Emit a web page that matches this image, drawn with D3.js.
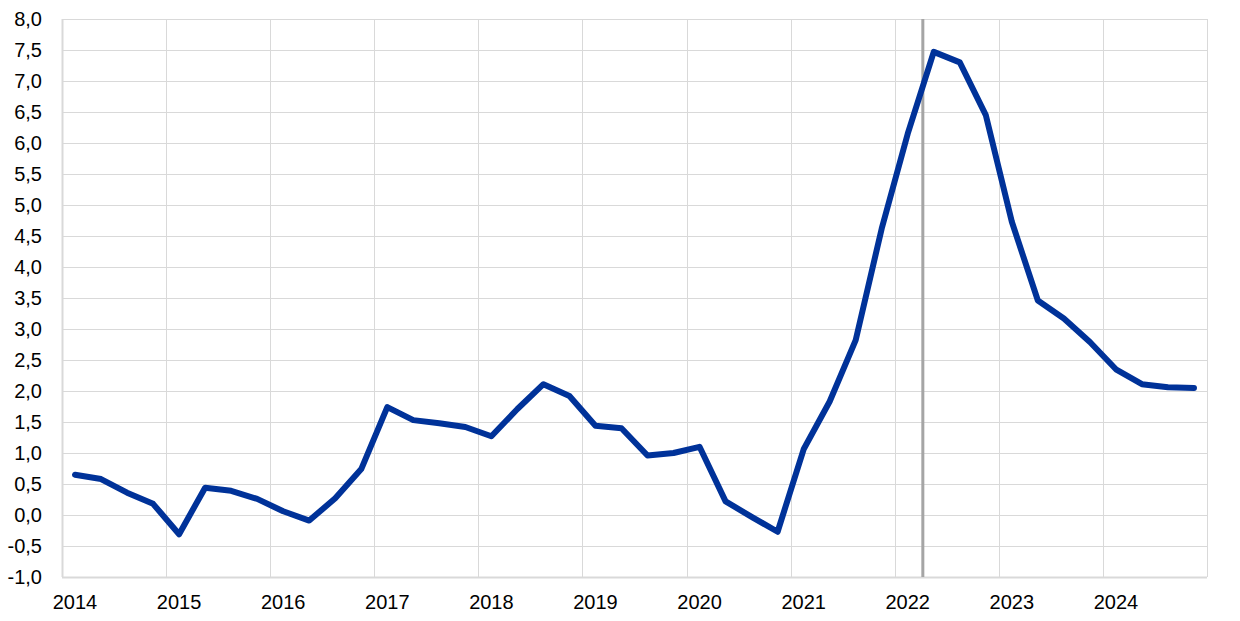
<!DOCTYPE html>
<html>
<head>
<meta charset="utf-8">
<script src="https://cdn.jsdelivr.net/npm/d3@7/dist/d3.min.js"></script>
<style>
  html, body { margin: 0; padding: 0; background: #fff; }
  svg { display: block; font-family: "Liberation Sans", Arial, sans-serif; }
</style>
</head>
<body>
<svg id="chart" width="1240" height="621"></svg>
<script>
// Year labels (one per four quarterly categories)
const years = ["2014","2015","2016","2017","2018","2019","2020","2021","2022","2023","2024"];
// Quarterly categories 2014Q1 .. 2024Q4
const quarters = years.flatMap(y => ["Q1","Q2","Q3","Q4"].map(q => y + q));
// Series values (%)
const values = [
  0.65, 0.58, 0.36, 0.18,
 -0.31, 0.44, 0.39, 0.26,
  0.06,-0.09, 0.27, 0.74,
  1.74, 1.53, 1.48, 1.42,
  1.27, 1.71, 2.11, 1.92,
  1.44, 1.40, 0.96, 1.00,
  1.10, 0.22,-0.03,-0.27,
  1.06, 1.83, 2.82, 4.62,
  6.15, 7.47, 7.30, 6.45,
  4.73, 3.46, 3.17, 2.79,
  2.35, 2.11, 2.06, 2.05
];
// Y tick values
const yTicks = d3.range(-1, 8.0001, 0.5);
// Vertical marker position (in quarterly category units from 2014Q1 start)
const markerPos = [33.08];

const svg = d3.select("#chart");
const mLeft = 62, mRight = 1207, mTop = 19, mBottom = 577;

const x = d3.scaleLinear().domain([0, quarters.length]).range([mLeft, mRight]);
const y = d3.scaleLinear().domain([-1, 8]).range([mBottom, mTop]);

const fmt = v => d3.format(".1f")(v).replace(".", ",").replace("\u2212", "-");

// horizontal gridlines
svg.append("g").selectAll("line").data(yTicks).join("line")
  .attr("x1", mLeft).attr("x2", mRight)
  .attr("y1", d => Math.round(y(d)) + 0.5).attr("y2", d => Math.round(y(d)) + 0.5)
  .attr("stroke", "#d9d9d9").attr("stroke-width", 1);

// vertical gridlines at year boundaries + right border
const vGrid = d3.range(0, quarters.length + 1, 4).concat([quarters.length]);
svg.append("g").selectAll("line").data(vGrid).join("line")
  .attr("x1", d => Math.round(x(d)) + 0.5).attr("x2", d => Math.round(x(d)) + 0.5)
  .attr("y1", mTop).attr("y2", mBottom)
  .attr("stroke", "#d9d9d9").attr("stroke-width", 1);

// axis lines (left and bottom)
svg.append("line").attr("x1", mLeft + 0.5).attr("x2", mLeft + 0.5).attr("y1", mTop).attr("y2", mBottom)
  .attr("stroke", "#d9d9d9").attr("stroke-width", 2);
svg.append("line").attr("x1", mLeft).attr("x2", mRight).attr("y1", mBottom + 0.5).attr("y2", mBottom + 0.5)
  .attr("stroke", "#d9d9d9").attr("stroke-width", 2);

// y labels
svg.append("g").selectAll("text").data(yTicks).join("text")
  .attr("x", 42).attr("y", d => y(d))
  .attr("dy", "0.35em")
  .attr("text-anchor", "end")
  .attr("font-size", 20).attr("fill", "#000")
  .text(fmt);

// x labels
svg.append("g").selectAll("text").data(years).join("text")
  .attr("x", (d, i) => x(i * 4 + 0.5))
  .attr("y", 609)
  .attr("text-anchor", "middle")
  .attr("font-size", 20).attr("fill", "#000")
  .text(d => d);

// vertical marker line
svg.append("g").selectAll("line").data(markerPos).join("line")
  .attr("x1", d => x(d)).attr("x2", d => x(d))
  .attr("y1", mTop).attr("y2", mBottom)
  .attr("stroke", "#a5a5a5").attr("stroke-width", 3);

// series line
const line = d3.line().x((d, i) => x(i + 0.5)).y(d => y(d));
svg.append("path").datum(values)
  .attr("d", line)
  .attr("fill", "none")
  .attr("stroke", "#003299")
  .attr("stroke-width", 6)
  .attr("stroke-linejoin", "round")
  .attr("stroke-linecap", "round");
</script>
</body>
</html>
